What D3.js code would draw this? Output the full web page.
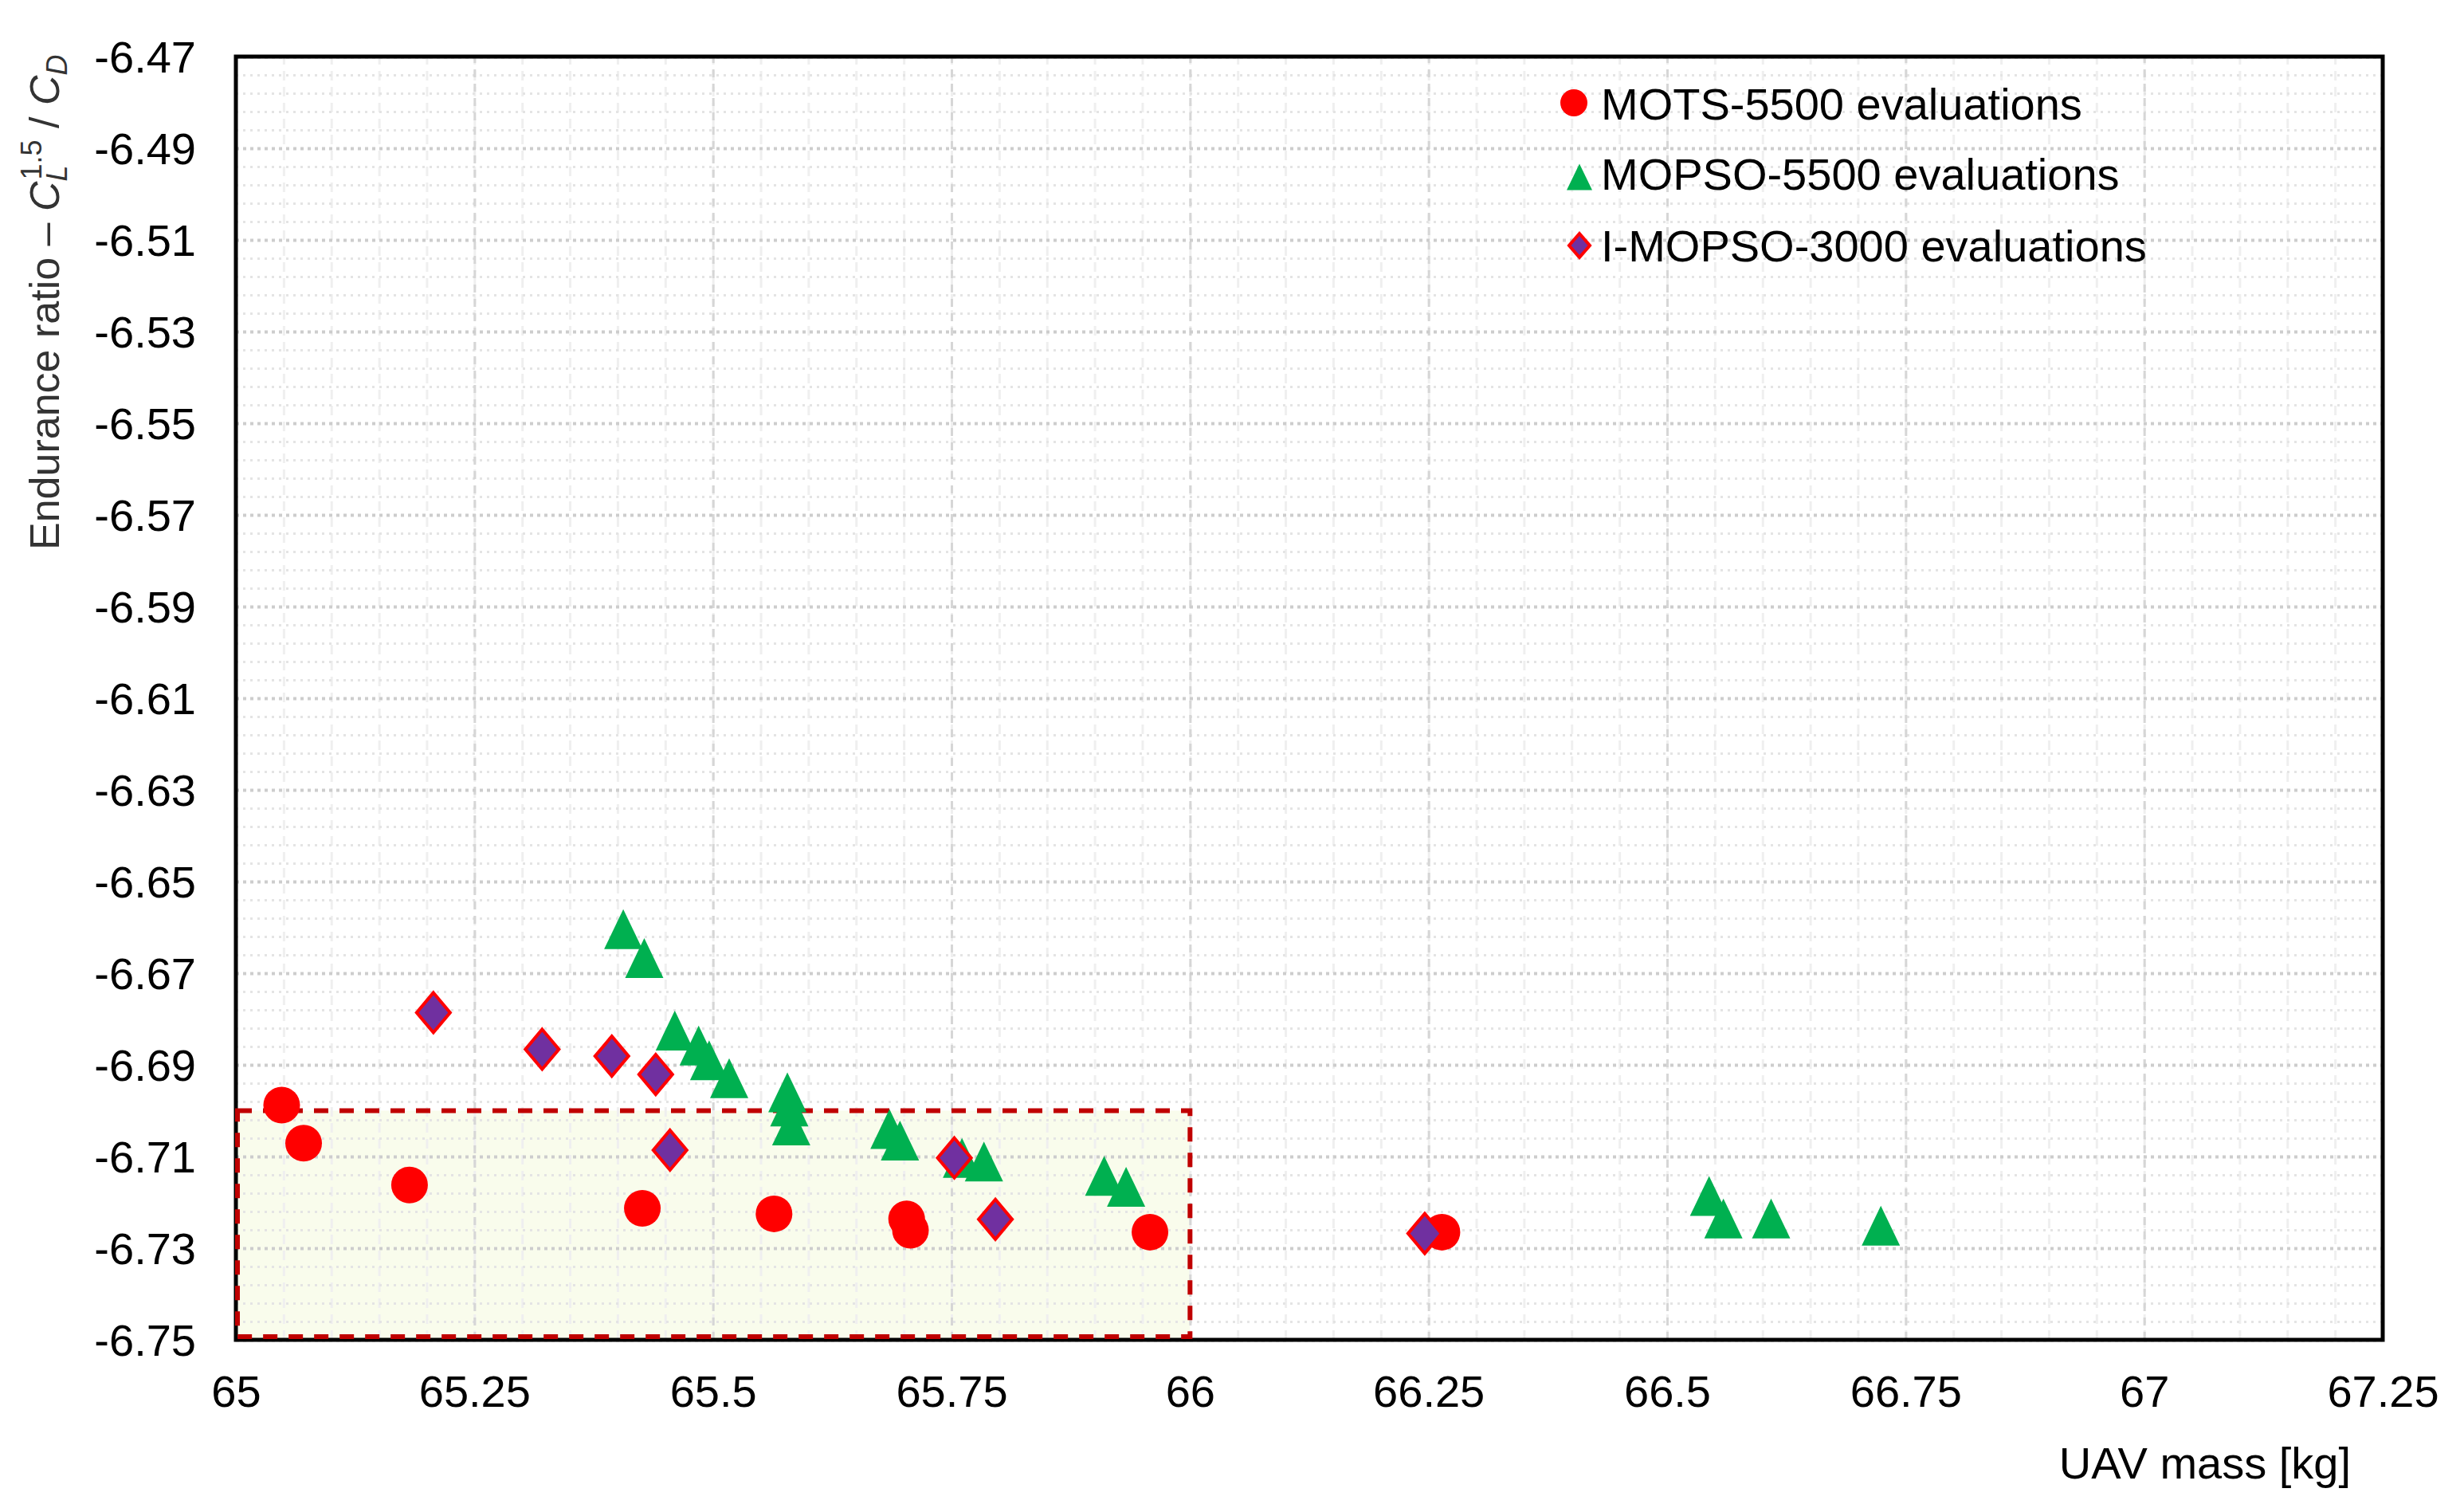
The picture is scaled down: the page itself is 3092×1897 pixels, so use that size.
<!DOCTYPE html>
<html>
<head>
<meta charset="utf-8">
<script src="https://cdnjs.cloudflare.com/ajax/libs/d3/7.8.5/d3.min.js"></script>
<style>
body { margin: 0; background: #fff; }
text { font-family: "Liberation Sans", Arial, sans-serif; }
</style>
</head>
<body>
<script>
// tick labels
var xTicks = [65, 65.25, 65.5, 65.75, 66, 66.25, 66.5, 66.75, 67, 67.25];
var yTicks = [-6.47, -6.49, -6.51, -6.53, -6.55, -6.57, -6.59, -6.61, -6.63, -6.65, -6.67, -6.69, -6.71, -6.73, -6.75];

// MOTS-5500 (red circles)
var motsMass  = [65.048, 65.071, 65.182, 65.426, 65.564, 65.703, 65.707, 65.958, 66.264];
var motsRatio = [-6.6988, -6.7071, -6.7162, -6.7213, -6.7225, -6.7236, -6.7261, -6.7265, -6.7265];

// MOPSO-5500 (green triangles)
var mopsoMass  = [65.406, 65.428, 65.460, 65.485, 65.496, 65.517, 65.578, 65.580, 65.582, 65.685, 65.696,
                  65.761, 65.784, 65.910, 65.933, 66.544, 66.559, 66.609, 66.724];
var mopsoRatio = [-6.6604, -6.6667, -6.6825, -6.6858, -6.6890, -6.6929, -6.6960, -6.6991, -6.7032, -6.7040, -6.7065,
                  -6.7103, -6.7111, -6.7142, -6.7166, -6.7186, -6.7235, -6.7235, -6.7251];

// I-MOPSO-3000 (purple diamonds)
var imopsoMass  = [65.207, 65.321, 65.394, 65.440, 65.455, 65.753, 65.796, 66.246];
var imopsoRatio = [-6.6786, -6.6866, -6.6881, -6.6921, -6.7086, -6.7103, -6.7237, -6.7268];

// highlighted zone
var zoneMass = [65, 66];
var zoneRatio = [-6.75, -6.70];

var seriesNames = ['MOTS-5500 evaluations', 'MOPSO-5500 evaluations', 'I-MOPSO-3000 evaluations'];

var W = 3092, H = 1897;
var pL = 296, pR = 2990, pT = 71, pB = 1681;

var svg = d3.select('body').append('svg').attr('width', W).attr('height', H);
svg.append('rect').attr('width', W).attr('height', H).attr('fill', '#fff');

var x = d3.scaleLinear().domain([65, 67.25]).range([pL, pR]);
var y = d3.scaleLinear().domain([-6.75, -6.47]).range([pB, pT]);

var zip = function(a, b) { return a.map(function(v, i) { return { x: v, y: b[i] }; }); };

// zone fill
svg.append('rect')
  .attr('x', x(zoneMass[0])).attr('y', y(zoneRatio[1]))
  .attr('width', x(zoneMass[1]) - x(zoneMass[0]))
  .attr('height', y(zoneRatio[0]) - y(zoneRatio[1]))
  .attr('fill', '#f9fcec');

// grids
var minorX = d3.range(0, 46).map(function(i) { return 65 + i * 0.05; });
var minorY = d3.range(0, 71).map(function(i) { return -6.75 + i * 0.004; });

var grid = function(axis, tr, color, w, dash) {
  var g = svg.append('g').attr('transform', tr).call(axis);
  g.select('.domain').remove();
  g.selectAll('text').remove();
  g.selectAll('line').attr('stroke', color).attr('stroke-width', w).attr('stroke-dasharray', dash);
};
grid(d3.axisBottom(x).tickValues(minorX).tickSize(-(pB - pT)).tickFormat(''),
  'translate(0,' + pB + ')', '#efefef', 3, '12,8');
grid(d3.axisLeft(y).tickValues(minorY).tickSize(-(pR - pL)).tickFormat(''),
  'translate(' + pL + ',0)', '#e4e4e4', 3, '3,6');
grid(d3.axisBottom(x).tickValues(xTicks).tickSize(-(pB - pT)).tickFormat(''),
  'translate(0,' + pB + ')', '#d6d6d6', 3, '10,8');
grid(d3.axisLeft(y).tickValues(yTicks).tickSize(-(pR - pL)).tickFormat(''),
  'translate(' + pL + ',0)', '#cdcdcd', 4, '4,5');

// frame
svg.append('rect')
  .attr('x', pL).attr('y', pT).attr('width', pR - pL).attr('height', pB - pT)
  .attr('fill', 'none').attr('stroke', '#000').attr('stroke-width', 5);

// zone border
svg.append('rect')
  .attr('x', x(zoneMass[0]) + 2).attr('y', y(zoneRatio[1]))
  .attr('width', x(zoneMass[1]) - x(zoneMass[0]) - 2)
  .attr('height', y(zoneRatio[0]) - y(zoneRatio[1]) - 4)
  .attr('fill', 'none').attr('stroke', '#c00000').attr('stroke-width', 6)
  .attr('stroke-dasharray', '18,14');

// axes labels
var xa = svg.append('g').attr('transform', 'translate(0,' + pB + ')')
  .call(d3.axisBottom(x).tickValues(xTicks).tickSize(0).tickFormat(function(d) { return String(d); }));
xa.select('.domain').remove();
xa.selectAll('text').attr('y', 84).attr('dy', 0).attr('font-size', 56)
  .attr('font-family', '"Liberation Sans", Arial, sans-serif').attr('fill', '#000');

var ya = svg.append('g').attr('transform', 'translate(' + pL + ',0)')
  .call(d3.axisLeft(y).tickValues(yTicks).tickSize(0).tickPadding(50).tickFormat(function(d) { return d.toFixed(2); }));
ya.select('.domain').remove();
ya.selectAll('text').attr('dy', '0.35em').attr('font-size', 56)
  .attr('font-family', '"Liberation Sans", Arial, sans-serif').attr('fill', '#000');

// axis titles
svg.append('text').attr('x', 2950).attr('y', 1855).attr('text-anchor', 'end')
  .attr('font-size', 56).attr('fill', '#000').text('UAV mass [kg]');

var yt = svg.append('text').attr('transform', 'translate(74,690) rotate(-90)')
  .attr('font-size', 52).attr('fill', '#333');
yt.append('tspan').text('Endurance ratio \u2013 ');
yt.append('tspan').attr('font-style', 'italic').text('C');
yt.append('tspan').attr('font-style', 'italic').attr('font-size', 36).attr('dy', 10).text('L');
yt.append('tspan').attr('font-size', 36).attr('dx', -18).attr('dy', -32).text('1.5');
yt.append('tspan').attr('dy', 22).text(' / ');
yt.append('tspan').attr('font-style', 'italic').text('C');
yt.append('tspan').attr('font-style', 'italic').attr('font-size', 36).attr('dy', 10).text('D');

// markers
var triPath = function(w, h) { return 'M0,' + (-h / 2) + 'L' + (w / 2) + ',' + (h / 2) + 'L' + (-w / 2) + ',' + (h / 2) + 'Z'; };
var diaPath = function(w, h) { return 'M0,' + (-h / 2) + 'L' + (w / 2) + ',0L0,' + (h / 2) + 'L' + (-w / 2) + ',0Z'; };

svg.append('g').selectAll('circle').data(zip(motsMass, motsRatio)).enter().append('circle')
  .attr('cx', function(d) { return x(d.x); })
  .attr('cy', function(d) { return y(d.y); })
  .attr('r', 23).attr('fill', '#ff0000');

svg.append('g').selectAll('path').data(zip(mopsoMass, mopsoRatio)).enter().append('path')
  .attr('transform', function(d) { return 'translate(' + x(d.x) + ',' + y(d.y) + ')'; })
  .attr('d', triPath(48, 50)).attr('fill', '#00b050');

svg.append('g').selectAll('path').data(zip(imopsoMass, imopsoRatio)).enter().append('path')
  .attr('transform', function(d) { return 'translate(' + x(d.x) + ',' + y(d.y) + ')'; })
  .attr('d', diaPath(42, 50)).attr('fill', '#7030a0').attr('stroke', '#ff0000').attr('stroke-width', 4);

// legend
var lg = svg.append('g');
lg.append('circle').attr('cx', 1975).attr('cy', 129).attr('r', 17).attr('fill', '#ff0000');
lg.append('path').attr('transform', 'translate(1982,222)').attr('d', triPath(32, 33)).attr('fill', '#00b050');
lg.append('path').attr('transform', 'translate(1982,308)').attr('d', diaPath(26, 30))
  .attr('fill', '#7030a0').attr('stroke', '#ff0000').attr('stroke-width', 4);
var ly = [150, 238, 328];
lg.selectAll('text').data(seriesNames).enter().append('text')
  .attr('x', 2009).attr('y', function(d, i) { return ly[i]; })
  .attr('font-size', 56).attr('fill', '#000').text(function(d) { return d; });
</script>
</body>
</html>
